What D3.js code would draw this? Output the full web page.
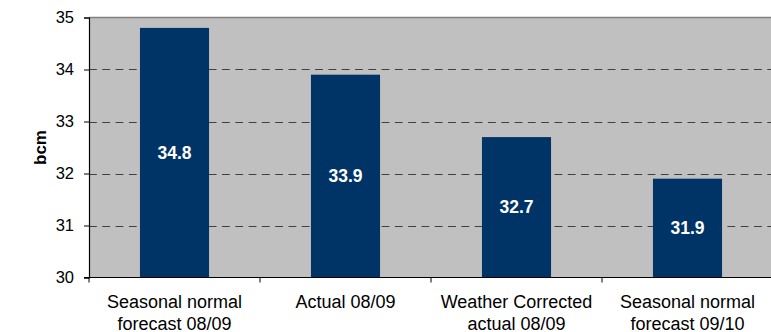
<!DOCTYPE html>
<html>
<head>
<meta charset="utf-8">
<script src="https://cdn.jsdelivr.net/npm/d3@7/dist/d3.min.js"></script>
<style>
  html, body { margin: 0; padding: 0; background: #fff; }
  svg { display: block; font-family: "Liberation Sans", Arial, sans-serif; }
</style>
</head>
<body>
<svg id="chart" width="771" height="332"></svg>
<script>
// Gas demand, billion cubic metres
const categories = [
  ["Seasonal normal", "forecast 08/09"],
  ["Actual 08/09"],
  ["Weather Corrected", "actual 08/09"],
  ["Seasonal normal", "forecast 09/10"]
];
const values = [34.8, 33.9, 32.7, 31.9];
const yTicks = [30, 31, 32, 33, 34, 35];
const yLabel = "bcm";

const FONT = "Liberation Sans, Arial, sans-serif";
const svg = d3.select("#chart");
const margin = { left: 89, top: 17.5, right: -2, bottom: 54.5 };
const W = 771, H = 332;
const x0 = margin.left, x1 = W - margin.right;
const y0 = H - margin.bottom, y1 = margin.top;

const x = d3.scaleBand()
  .domain(d3.range(categories.length))
  .range([x0, x1])
  .paddingInner(0.596)
  .paddingOuter(0.298);
const y = d3.scaleLinear().domain([30, 35]).range([y0, y1]);

// plot background
svg.append("rect")
  .attr("x", x0).attr("y", y1)
  .attr("width", x1 - x0).attr("height", y0 - y1)
  .attr("fill", "#c0c0c0");

// dashed gridlines
svg.append("g")
  .selectAll("line")
  .data(yTicks.filter(t => t > 30 && t < 35))
  .join("line")
  .attr("x1", x0).attr("x2", x1)
  .attr("y1", d => Math.round(y(d)) + 0.5).attr("y2", d => Math.round(y(d)) + 0.5)
  .attr("stroke", "#404040")
  .attr("stroke-width", 1.2)
  .attr("stroke-dasharray", "7.8,5.5");

// top border
svg.append("line")
  .attr("x1", x0).attr("x2", x1)
  .attr("y1", y1).attr("y2", y1)
  .attr("stroke", "#808080").attr("stroke-width", 1.5);

// bars
svg.append("g")
  .selectAll("rect")
  .data(values)
  .join("rect")
  .attr("x", (d, i) => x(i))
  .attr("width", x.bandwidth())
  .attr("y", d => y(d))
  .attr("height", d => y0 - y(d))
  .attr("fill", "#003366");

// value labels
svg.append("g")
  .selectAll("text")
  .data(values)
  .join("text")
  .attr("x", (d, i) => x(i) + x.bandwidth() / 2)
  .attr("y", d => (y(d) + y0) / 2 + 6)
  .attr("text-anchor", "middle")
  .attr("fill", "#fff")
  .attr("font-weight", "bold")
  .attr("font-size", 17.5)
  .text(d => d.toFixed(1));

// y axis
const yAxis = svg.append("g")
  .attr("transform", `translate(${x0},0)`)
  .call(d3.axisLeft(y).tickValues(yTicks).tickSize(5).tickPadding(10).tickFormat(d3.format("d")));
yAxis.select(".domain").attr("stroke", "#000").attr("stroke-width", 1.2);
yAxis.selectAll(".tick line").attr("stroke", "#000");
yAxis.selectAll(".tick text")
  .attr("font-size", 16.5)
  .attr("font-family", FONT)
  .attr("fill", "#000");

// x axis line and category ticks between bands
const xAxisG = svg.append("g");
xAxisG.append("line")
  .attr("x1", x0 - 5).attr("x2", x1)
  .attr("y1", y0).attr("y2", y0)
  .attr("stroke", "#000").attr("stroke-width", 1.2);
const step = x.step();
xAxisG.selectAll("line.tick")
  .data(d3.range(categories.length + 1))
  .join("line")
  .attr("class", "tick")
  .attr("x1", i => x0 + i * step).attr("x2", i => x0 + i * step)
  .attr("y1", y0).attr("y2", y0 + 5)
  .attr("stroke", "#000");

// category labels
const catG = svg.append("g")
  .selectAll("text")
  .data(categories)
  .join("text")
  .attr("x", (d, i) => x(i) + x.bandwidth() / 2)
  .attr("y", 308)
  .attr("text-anchor", "middle")
  .attr("font-size", 18)
  .attr("fill", "#000");
catG.selectAll("tspan")
  .data(d => d)
  .join("tspan")
  .attr("x", function () { return d3.select(this.parentNode).attr("x"); })
  .attr("dy", (d, i) => i === 0 ? 0 : 21.5)
  .text(d => d);

// y axis title
svg.append("text")
  .attr("transform", `translate(46,${(y0 + y1) / 2}) rotate(-90)`)
  .attr("text-anchor", "middle")
  .attr("font-size", 17)
  .attr("font-weight", "bold")
  .text(yLabel);
</script>
</body>
</html>
